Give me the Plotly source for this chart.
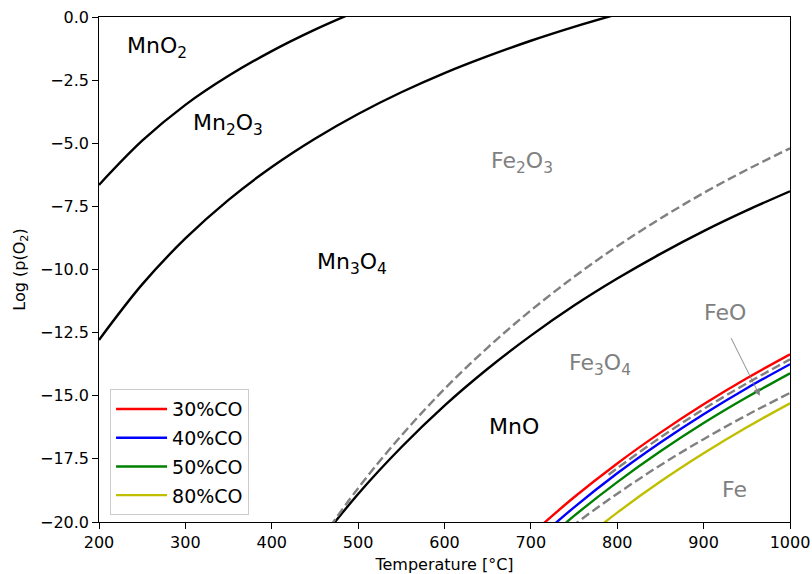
import plotly.graph_objects as go

# Temperatures (°C) and log10 p(O2)
mn1_T = [200, 250, 300, 350, 400, 450, 500]
mn1_y = [-6.65, -4.90, -3.48, -2.33, -1.35, -0.50, 0.25]           # MnO2 / Mn2O3

mn2_T = [200, 250, 300, 350, 400, 450, 500, 550, 600, 650, 700, 750, 800]
mn2_y = [-12.79, -10.59, -8.77, -7.24, -5.94, -4.82, -3.84, -2.98, -2.22, -1.55, -0.94, -0.39, 0.11]  # Mn2O3 / Mn3O4

mn3_T = [450, 500, 550, 600, 650, 700, 750, 800, 850, 900, 950, 1000]
mn3_y = [-21.00, -18.89, -17.04, -15.39, -13.93, -12.62, -11.43, -10.36, -9.38, -8.48, -7.66, -6.90]  # Mn3O4 / MnO

fe1_T = [450, 500, 550, 600, 650, 700, 750, 800, 850, 900, 950, 1000]
fe1_y = [-21.03, -18.66, -16.58, -14.73, -13.09, -11.62, -10.29, -9.08, -7.98, -6.97, -6.05, -5.20]  # Fe2O3 / Fe3O4

fe2_T = [790, 800, 850, 900, 950, 1000]
fe2_y = [-18.13, -17.87, -16.65, -15.53, -14.51, -13.56]           # Fe3O4 / FeO

fe3_T = [700, 750, 800, 850, 900, 950, 1000]
fe3_y = [-21.48, -20.11, -18.88, -17.75, -16.72, -15.77, -14.89]   # FeO / Fe

# Gas-mixture oxygen potentials
co_names = ["30%CO", "40%CO", "50%CO", "80%CO"]
co_colors = ["#ff0000", "#0000ff", "#008000", "#bfbf00"]
co_T = [
    [700, 750, 800, 850, 900, 950, 1000],
    [700, 750, 800, 850, 900, 950, 1000],
    [700, 750, 800, 850, 900, 950, 1000],
    [750, 800, 850, 900, 950, 1000],
]
co_y = [
    [-20.50, -19.02, -17.68, -16.46, -15.34, -14.31, -13.36],
    [-20.90, -19.42, -18.07, -16.85, -15.73, -14.70, -13.75],
    [-21.24, -19.76, -18.42, -17.20, -16.08, -15.06, -14.11],
    [-20.98, -19.63, -18.40, -17.28, -16.25, -15.30],
]

x_ticks = [200, 300, 400, 500, 600, 700, 800, 900, 1000]
y_ticks = [0.0, -2.5, -5.0, -7.5, -10.0, -12.5, -15.0, -17.5, -20.0]
y_ticktext = [("−" if v < 0 else "") + f"{abs(v):.1f}" for v in y_ticks]

# Phase field labels: (text, T, logp, colour)
labels = [
    ("MnO<sub>2</sub>", 267, -1.2, "black"),
    ("Mn<sub>2</sub>O<sub>3</sub>", 349, -4.25, "black"),
    ("Mn<sub>3</sub>O<sub>4</sub>", 493, -9.75, "black"),
    ("Fe<sub>2</sub>O<sub>3</sub>", 690, -5.75, "#808080"),
    ("Fe<sub>3</sub>O<sub>4</sub>", 780, -13.75, "#808080"),
    ("MnO", 681, -16.2, "black"),
    ("FeO", 925, -11.7, "#808080"),
    ("Fe", 936, -18.7, "#808080"),
]

LINE_W = 2.4
DASH = "9px,4px"

fig = go.Figure()

for T, y in [(mn1_T, mn1_y), (mn2_T, mn2_y), (mn3_T, mn3_y)]:
    fig.add_trace(go.Scatter(x=T, y=y, mode="lines", showlegend=False,
                             line=dict(color="black", width=LINE_W, shape="spline")))

for T, y in [(fe1_T, fe1_y), (fe2_T, fe2_y), (fe3_T, fe3_y)]:
    fig.add_trace(go.Scatter(x=T, y=y, mode="lines", showlegend=False,
                             line=dict(color="#808080", width=LINE_W, dash=DASH, shape="spline")))

for name, c, T, y in zip(co_names, co_colors, co_T, co_y):
    fig.add_trace(go.Scatter(x=T, y=y, mode="lines", name=name, legendgroup=name,
                             line=dict(color=c, width=LINE_W, shape="spline")))

annotations = []
for text, T, y, c in labels:
    annotations.append(dict(x=T, y=y, xref="x", yref="y", text=text, showarrow=False,
                            xanchor="center", yanchor="middle",
                            font=dict(size=22, color=c, family="DejaVu Sans")))

# Arrow pointing from the FeO label to its narrow stability band
annotations.append(dict(x=965, y=-15.0, ax=931, ay=-12.66, xref="x", yref="y",
                        axref="x", ayref="y", text="", showarrow=True,
                        arrowhead=2, arrowsize=1.6, arrowwidth=0.9, arrowcolor="#808080"))

fig.update_layout(
    width=812, height=574,
    margin=dict(l=99, r=22, t=17, b=52),
    paper_bgcolor="white", plot_bgcolor="white",
    font=dict(family="DejaVu Sans", size=16, color="black"),
    annotations=annotations,
    legend=dict(x=0.016, y=0.263, xanchor="left", yanchor="top",
                bgcolor="rgba(255,255,255,0.8)", bordercolor="#cccccc", borderwidth=1,
                traceorder="grouped", tracegroupgap=1, itemwidth=51,
                font=dict(size=19, family="DejaVu Sans")),
    xaxis=dict(range=[200, 1000], tickvals=x_ticks, ticks="outside", ticklen=5.6,
               tickwidth=1.3, tickcolor="black", showline=True, linecolor="black",
               linewidth=1.3, mirror=True, showgrid=False, zeroline=False,
               automargin=False, tickfont=dict(size=16),
               title=dict(text="Temperature [°C]", font=dict(size=16), standoff=8)),
    yaxis=dict(range=[-20, 0], tickvals=y_ticks, ticktext=y_ticktext, ticks="outside",
               ticklen=5.6, tickwidth=1.3, tickcolor="black", showline=True,
               linecolor="black", linewidth=1.3, mirror=True, showgrid=False,
               zeroline=False, automargin=False, tickfont=dict(size=16),
               title=dict(text="Log (p(O<sub>2</sub>)", font=dict(size=16), standoff=10)),
)

fig.write_html("out.html")
